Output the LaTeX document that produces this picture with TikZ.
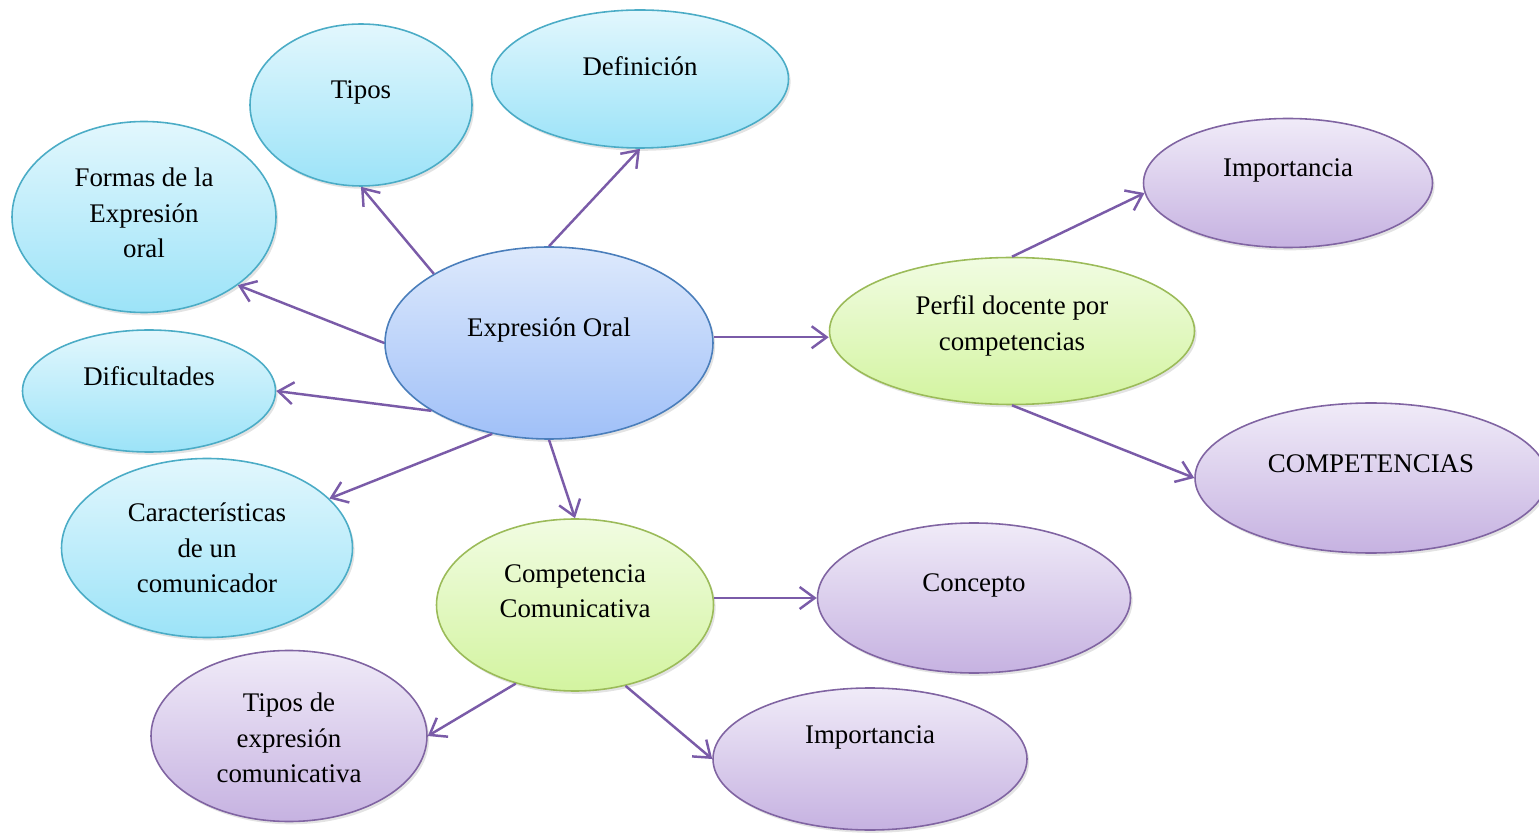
\documentclass[tikz,border=0pt]{standalone}
\usepackage{fontspec}
\setmainfont{Liberation Serif}
\usetikzlibrary{arrows.meta,shapes.geometric,shadows}
\definecolor{bluetop}{HTML}{E2F7FD}
\definecolor{bluebot}{HTML}{9CE3F8}
\definecolor{bluebd}{HTML}{4BACC6}
\definecolor{eotop}{HTML}{DDE9FC}
\definecolor{eobot}{HTML}{A0C0F8}
\definecolor{eobd}{HTML}{4A7EBB}
\definecolor{greentop}{HTML}{F1FCE2}
\definecolor{greenbot}{HTML}{D3F4A0}
\definecolor{greenbd}{HTML}{9BBB59}
\definecolor{purptop}{HTML}{F0EBF8}
\definecolor{purpbot}{HTML}{C6B2E1}
\definecolor{purpbd}{HTML}{8064A2}
\definecolor{arrc}{HTML}{7A5BA8}
\begin{document}
\begin{tikzpicture}[x=0.2mm,y=-0.2mm,
  bub/.style={ellipse, inner sep=0pt, line width=0.9pt,
    drop shadow={shadow xshift=1.2pt,shadow yshift=-1.6pt,opacity=0.22}},
  blueb/.style={bub, draw=bluebd, top color=bluetop, bottom color=bluebot},
  eob/.style={bub, draw=eobd, top color=eotop, bottom color=eobot},
  greenb/.style={bub, draw=greenbd, top color=greentop, bottom color=greenbot},
  purpb/.style={bub, draw=purpbd, top color=purptop, bottom color=purpbot},
  lbl/.style={font=\fontsize{15.3}{20.2}\selectfont, align=center, inner sep=0pt},
  arr/.style={draw=arrc, line width=1.4pt, -{Straight Barb[length=3mm,width=4.4mm]}}
]
\useasboundingbox (0,0) rectangle (1539,833);
% bubbles
\node[blueb, minimum width={222*0.2mm}, minimum height={162*0.2mm}] (tipos) at (361,105) {};
\node[blueb, minimum width={297*0.2mm}, minimum height={138*0.2mm}] (def) at (640,79) {};
\node[blueb, minimum width={264*0.2mm}, minimum height={191*0.2mm}] (formas) at (144,217) {};
\node[blueb, minimum width={253*0.2mm}, minimum height={122*0.2mm}] (dif) at (149,391) {};
\node[blueb, minimum width={291*0.2mm}, minimum height={179*0.2mm}] (car) at (207,548) {};
\node[eob, minimum width={328*0.2mm}, minimum height={192*0.2mm}] (eo) at (549,343) {};
\node[greenb, minimum width={365*0.2mm}, minimum height={147*0.2mm}] (perfil) at (1012,331) {};
\node[purpb, minimum width={289*0.2mm}, minimum height={129*0.2mm}] (imp1) at (1288,183) {};
\node[purpb, minimum width={352*0.2mm}, minimum height={150*0.2mm}] (comp) at (1371,478) {};
\node[greenb, minimum width={277*0.2mm}, minimum height={172*0.2mm}] (cc) at (575,605) {};
\node[purpb, minimum width={313*0.2mm}, minimum height={150*0.2mm}] (conc) at (974,598) {};
\node[purpb, minimum width={276*0.2mm}, minimum height={171*0.2mm}] (te) at (289,736) {};
\node[purpb, minimum width={314*0.2mm}, minimum height={142*0.2mm}] (imp2) at (870,759) {};
% texts
\node[lbl] (tipos-t) at (361,92) {Tipos};
\node[lbl] (def-t) at (640,66) {Definición};
\node[lbl] (formas-t) at (144,213) {Formas de la\\Expresión\\oral};
\node[lbl] (dif-t) at (149,376) {Dificultades};
\node[lbl] (car-t) at (207,548) {Características\\de un\\comunicador};
\node[lbl] (eo-t) at (549,330) {Expresión Oral};
\node[lbl] (perfil-t) at (1012,326) {Perfil docente por\\competencias};
\node[lbl] (imp1-t) at (1288,170) {Importancia};
\node[lbl] (comp-t) at (1371,464) {COMPETENCIAS};
\node[lbl] (cc-t) at (575,591) {Competencia\\Comunicativa};
\node[lbl] (conc-t) at (974,585) {Concepto};
\node[lbl] (te-t) at (289,738) {Tipos de\\expresión\\comunicativa};
\node[lbl] (imp2-t) at (870,737) {Importancia};
% arrows
\draw[arr] (eo.149.6) -- (tipos.south);
\draw[arr] (eo.north) -- (def.south);
\draw[arr] (eo.west) -- (formas.-36);
\draw[arr] (eo.210) -- (dif.east);
\draw[arr] (eo.238) -- (car.22);
\draw[arr] (eo.south) -- (cc.north);
\draw[arr] (eo.2) -- (eo.2 -| perfil.west);
\draw[arr] (perfil.north) -- (imp1.184);
\draw[arr] (perfil.south) -- (comp.west);
\draw[arr] (conc.west -| cc.east) -- (conc.west);
\draw[arr] (cc.233) -- (te.east);
\draw[arr] (cc.302) -- (imp2.west);
\end{tikzpicture}
\end{document}
